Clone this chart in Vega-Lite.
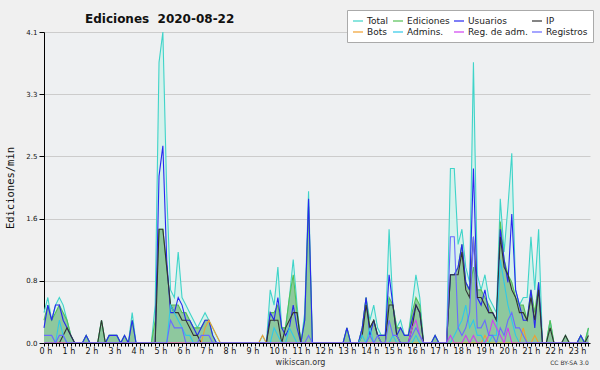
{
  "$schema": "https://vega.github.io/schema/vega-lite/v6.json",
  "width": 546,
  "height": 311,
  "autosize": "none",
  "padding": {"left": 44, "top": 32, "right": 10, "bottom": 27},
  "background": "#f0f0f0",
  "config": {"view": {"fill": "#eef0f2", "stroke": null}, "font": "DejaVu Sans"},
  "title": {"text": "Ediciones \u00a02020-08-22", "frame": "group", "anchor": "start", "dx": 41, "dy": 35, "offset": 10, "baseline": "alphabetic", "fontSize": 12, "font": "DejaVu Sans", "fontWeight": "bold", "color": "#111111"},
  "data": {"values": [
    {"t":0,"Total":0.4,"Ediciones":0.3,"Usuarios":0.2,"IP":0,"Bots":0,"Admins":0,"RegAdm":0,"Registros":0.1},
    {"t":1,"Total":0.6,"Ediciones":0.5,"Usuarios":0.5,"IP":0,"Bots":0,"Admins":0,"RegAdm":0,"Registros":0.1},
    {"t":2,"Total":0.3,"Ediciones":0.3,"Usuarios":0.3,"IP":0,"Bots":0,"Admins":0,"RegAdm":0,"Registros":0.1},
    {"t":3,"Total":0.5,"Ediciones":0.4,"Usuarios":0.5,"IP":0,"Bots":0,"Admins":0,"RegAdm":0,"Registros":0},
    {"t":4,"Total":0.6,"Ediciones":0.5,"Usuarios":0.5,"IP":0,"Bots":0,"Admins":0.3,"RegAdm":0,"Registros":0.1},
    {"t":5,"Total":0.5,"Ediciones":0.4,"Usuarios":0.3,"IP":0.1,"Bots":0,"Admins":0.1,"RegAdm":0,"Registros":0.1},
    {"t":6,"Total":0.3,"Ediciones":0.3,"Usuarios":0.2,"IP":0.2,"Bots":0,"Admins":0,"RegAdm":0,"Registros":0},
    {"t":7,"Total":0.1,"Ediciones":0.1,"Usuarios":0.1,"IP":0.1,"Bots":0,"Admins":0,"RegAdm":0,"Registros":0},
    {"t":8,"Total":0,"Ediciones":0,"Usuarios":0,"IP":0,"Bots":0,"Admins":0,"RegAdm":0,"Registros":0},
    {"t":9,"Total":0,"Ediciones":0,"Usuarios":0,"IP":0,"Bots":0,"Admins":0,"RegAdm":0,"Registros":0},
    {"t":10,"Total":0,"Ediciones":0,"Usuarios":0,"IP":0,"Bots":0,"Admins":0,"RegAdm":0,"Registros":0},
    {"t":11,"Total":0.1,"Ediciones":0.1,"Usuarios":0.1,"IP":0,"Bots":0,"Admins":0,"RegAdm":0,"Registros":0},
    {"t":12,"Total":0,"Ediciones":0,"Usuarios":0,"IP":0,"Bots":0,"Admins":0,"RegAdm":0,"Registros":0},
    {"t":13,"Total":0,"Ediciones":0,"Usuarios":0,"IP":0,"Bots":0,"Admins":0,"RegAdm":0,"Registros":0},
    {"t":14,"Total":0,"Ediciones":0,"Usuarios":0,"IP":0,"Bots":0,"Admins":0,"RegAdm":0,"Registros":0},
    {"t":15,"Total":0.3,"Ediciones":0.3,"Usuarios":0,"IP":0.3,"Bots":0,"Admins":0,"RegAdm":0,"Registros":0},
    {"t":16,"Total":0,"Ediciones":0,"Usuarios":0,"IP":0,"Bots":0,"Admins":0,"RegAdm":0,"Registros":0},
    {"t":17,"Total":0.1,"Ediciones":0.1,"Usuarios":0.1,"IP":0,"Bots":0,"Admins":0,"RegAdm":0,"Registros":0},
    {"t":18,"Total":0.1,"Ediciones":0.1,"Usuarios":0.1,"IP":0,"Bots":0,"Admins":0,"RegAdm":0,"Registros":0},
    {"t":19,"Total":0.1,"Ediciones":0.1,"Usuarios":0.1,"IP":0,"Bots":0,"Admins":0,"RegAdm":0,"Registros":0},
    {"t":20,"Total":0,"Ediciones":0,"Usuarios":0,"IP":0,"Bots":0,"Admins":0,"RegAdm":0,"Registros":0},
    {"t":21,"Total":0.1,"Ediciones":0.1,"Usuarios":0.1,"IP":0,"Bots":0,"Admins":0,"RegAdm":0,"Registros":0},
    {"t":22,"Total":0,"Ediciones":0,"Usuarios":0,"IP":0,"Bots":0,"Admins":0,"RegAdm":0,"Registros":0},
    {"t":23,"Total":0.4,"Ediciones":0.3,"Usuarios":0.3,"IP":0,"Bots":0,"Admins":0,"RegAdm":0,"Registros":0},
    {"t":24,"Total":0,"Ediciones":0,"Usuarios":0,"IP":0,"Bots":0,"Admins":0,"RegAdm":0,"Registros":0},
    {"t":25,"Total":0,"Ediciones":0,"Usuarios":0,"IP":0,"Bots":0,"Admins":0,"RegAdm":0,"Registros":0},
    {"t":26,"Total":0,"Ediciones":0,"Usuarios":0,"IP":0,"Bots":0,"Admins":0,"RegAdm":0,"Registros":0},
    {"t":27,"Total":0,"Ediciones":0,"Usuarios":0,"IP":0,"Bots":0,"Admins":0,"RegAdm":0,"Registros":0},
    {"t":28,"Total":0,"Ediciones":0,"Usuarios":0,"IP":0,"Bots":0,"Admins":0,"RegAdm":0,"Registros":0},
    {"t":29,"Total":0.5,"Ediciones":0.3,"Usuarios":0,"IP":0,"Bots":0,"Admins":0,"RegAdm":0,"Registros":0},
    {"t":30,"Total":3.7,"Ediciones":1.5,"Usuarios":2.2,"IP":1.5,"Bots":0,"Admins":0,"RegAdm":0,"Registros":0},
    {"t":31,"Total":4.1,"Ediciones":1.5,"Usuarios":2.6,"IP":1.5,"Bots":0,"Admins":0,"RegAdm":0,"Registros":0},
    {"t":32,"Total":2.0,"Ediciones":1.0,"Usuarios":1.1,"IP":1.0,"Bots":0,"Admins":0,"RegAdm":0,"Registros":0},
    {"t":33,"Total":0.7,"Ediciones":0.5,"Usuarios":0.4,"IP":0.5,"Bots":0,"Admins":0.5,"RegAdm":0,"Registros":0.3},
    {"t":34,"Total":0.6,"Ediciones":0.5,"Usuarios":0.4,"IP":0.4,"Bots":0,"Admins":0.4,"RegAdm":0,"Registros":0.2},
    {"t":35,"Total":1.2,"Ediciones":0.5,"Usuarios":0.6,"IP":0.4,"Bots":0,"Admins":0.3,"RegAdm":0,"Registros":0.2},
    {"t":36,"Total":0.6,"Ediciones":0.4,"Usuarios":0.5,"IP":0.3,"Bots":0,"Admins":0.2,"RegAdm":0,"Registros":0.2},
    {"t":37,"Total":0.5,"Ediciones":0.4,"Usuarios":0.3,"IP":0.3,"Bots":0,"Admins":0.1,"RegAdm":0,"Registros":0},
    {"t":38,"Total":0.4,"Ediciones":0.3,"Usuarios":0.3,"IP":0.2,"Bots":0,"Admins":0.1,"RegAdm":0,"Registros":0},
    {"t":39,"Total":0.3,"Ediciones":0.2,"Usuarios":0.2,"IP":0.1,"Bots":0,"Admins":0,"RegAdm":0,"Registros":0},
    {"t":40,"Total":0.2,"Ediciones":0.2,"Usuarios":0.1,"IP":0.1,"Bots":0,"Admins":0,"RegAdm":0,"Registros":0},
    {"t":41,"Total":0.3,"Ediciones":0.2,"Usuarios":0.2,"IP":0,"Bots":0,"Admins":0,"RegAdm":0,"Registros":0.1},
    {"t":42,"Total":0.4,"Ediciones":0.3,"Usuarios":0.3,"IP":0,"Bots":0.2,"Admins":0,"RegAdm":0,"Registros":0.1},
    {"t":43,"Total":0.3,"Ediciones":0.3,"Usuarios":0.3,"IP":0,"Bots":0.3,"Admins":0,"RegAdm":0,"Registros":0.1},
    {"t":44,"Total":0.2,"Ediciones":0.1,"Usuarios":0.1,"IP":0,"Bots":0.2,"Admins":0,"RegAdm":0,"Registros":0},
    {"t":45,"Total":0.1,"Ediciones":0,"Usuarios":0,"IP":0,"Bots":0.1,"Admins":0,"RegAdm":0,"Registros":0},
    {"t":46,"Total":0,"Ediciones":0,"Usuarios":0,"IP":0,"Bots":0,"Admins":0,"RegAdm":0,"Registros":0},
    {"t":47,"Total":0,"Ediciones":0,"Usuarios":0,"IP":0,"Bots":0,"Admins":0,"RegAdm":0,"Registros":0},
    {"t":48,"Total":0,"Ediciones":0,"Usuarios":0,"IP":0,"Bots":0,"Admins":0,"RegAdm":0,"Registros":0},
    {"t":49,"Total":0,"Ediciones":0,"Usuarios":0,"IP":0,"Bots":0,"Admins":0,"RegAdm":0,"Registros":0},
    {"t":50,"Total":0,"Ediciones":0,"Usuarios":0,"IP":0,"Bots":0,"Admins":0,"RegAdm":0,"Registros":0},
    {"t":51,"Total":0,"Ediciones":0,"Usuarios":0,"IP":0,"Bots":0,"Admins":0,"RegAdm":0,"Registros":0},
    {"t":52,"Total":0,"Ediciones":0,"Usuarios":0,"IP":0,"Bots":0,"Admins":0,"RegAdm":0,"Registros":0},
    {"t":53,"Total":0,"Ediciones":0,"Usuarios":0,"IP":0,"Bots":0,"Admins":0,"RegAdm":0,"Registros":0},
    {"t":54,"Total":0,"Ediciones":0,"Usuarios":0,"IP":0,"Bots":0,"Admins":0,"RegAdm":0,"Registros":0},
    {"t":55,"Total":0,"Ediciones":0,"Usuarios":0,"IP":0,"Bots":0,"Admins":0,"RegAdm":0,"Registros":0},
    {"t":56,"Total":0,"Ediciones":0,"Usuarios":0,"IP":0,"Bots":0,"Admins":0,"RegAdm":0,"Registros":0},
    {"t":57,"Total":0.1,"Ediciones":0,"Usuarios":0,"IP":0,"Bots":0.1,"Admins":0,"RegAdm":0,"Registros":0},
    {"t":58,"Total":0,"Ediciones":0,"Usuarios":0,"IP":0,"Bots":0,"Admins":0,"RegAdm":0,"Registros":0},
    {"t":59,"Total":0.7,"Ediciones":0.4,"Usuarios":0.4,"IP":0.3,"Bots":0,"Admins":0,"RegAdm":0,"Registros":0},
    {"t":60,"Total":0.5,"Ediciones":0.4,"Usuarios":0.3,"IP":0.3,"Bots":0,"Admins":0.2,"RegAdm":0,"Registros":0},
    {"t":61,"Total":1.0,"Ediciones":0.5,"Usuarios":0.6,"IP":0.3,"Bots":0,"Admins":0.1,"RegAdm":0,"Registros":0},
    {"t":62,"Total":0.2,"Ediciones":0.2,"Usuarios":0.2,"IP":0,"Bots":0,"Admins":0,"RegAdm":0,"Registros":0},
    {"t":63,"Total":0.2,"Ediciones":0.2,"Usuarios":0.1,"IP":0.2,"Bots":0,"Admins":0,"RegAdm":0,"Registros":0},
    {"t":64,"Total":0.6,"Ediciones":0.6,"Usuarios":0.2,"IP":0.3,"Bots":0,"Admins":0.2,"RegAdm":0,"Registros":0},
    {"t":65,"Total":1.1,"Ediciones":0.9,"Usuarios":0.5,"IP":0.4,"Bots":0,"Admins":0.1,"RegAdm":0,"Registros":0},
    {"t":66,"Total":0.5,"Ediciones":0.4,"Usuarios":0.2,"IP":0.4,"Bots":0,"Admins":0,"RegAdm":0,"Registros":0},
    {"t":67,"Total":0,"Ediciones":0,"Usuarios":0,"IP":0,"Bots":0,"Admins":0,"RegAdm":0,"Registros":0},
    {"t":68,"Total":0.4,"Ediciones":0.3,"Usuarios":0.3,"IP":0,"Bots":0,"Admins":0,"RegAdm":0,"Registros":0},
    {"t":69,"Total":2.0,"Ediciones":1.8,"Usuarios":1.9,"IP":0,"Bots":0,"Admins":0,"RegAdm":0,"Registros":0.1},
    {"t":70,"Total":0,"Ediciones":0,"Usuarios":0,"IP":0,"Bots":0,"Admins":0,"RegAdm":0,"Registros":0},
    {"t":71,"Total":0,"Ediciones":0,"Usuarios":0,"IP":0,"Bots":0,"Admins":0,"RegAdm":0,"Registros":0},
    {"t":72,"Total":0,"Ediciones":0,"Usuarios":0,"IP":0,"Bots":0,"Admins":0,"RegAdm":0,"Registros":0},
    {"t":73,"Total":0,"Ediciones":0,"Usuarios":0,"IP":0,"Bots":0,"Admins":0,"RegAdm":0,"Registros":0},
    {"t":74,"Total":0,"Ediciones":0,"Usuarios":0,"IP":0,"Bots":0,"Admins":0,"RegAdm":0,"Registros":0},
    {"t":75,"Total":0,"Ediciones":0,"Usuarios":0,"IP":0,"Bots":0,"Admins":0,"RegAdm":0,"Registros":0},
    {"t":76,"Total":0,"Ediciones":0,"Usuarios":0,"IP":0,"Bots":0,"Admins":0,"RegAdm":0,"Registros":0},
    {"t":77,"Total":0,"Ediciones":0,"Usuarios":0,"IP":0,"Bots":0,"Admins":0,"RegAdm":0,"Registros":0},
    {"t":78,"Total":0,"Ediciones":0,"Usuarios":0,"IP":0,"Bots":0,"Admins":0,"RegAdm":0,"Registros":0},
    {"t":79,"Total":0.2,"Ediciones":0.2,"Usuarios":0.2,"IP":0,"Bots":0,"Admins":0,"RegAdm":0,"Registros":0},
    {"t":80,"Total":0,"Ediciones":0,"Usuarios":0,"IP":0,"Bots":0,"Admins":0,"RegAdm":0,"Registros":0},
    {"t":81,"Total":0,"Ediciones":0,"Usuarios":0,"IP":0,"Bots":0,"Admins":0,"RegAdm":0,"Registros":0},
    {"t":82,"Total":0,"Ediciones":0,"Usuarios":0,"IP":0,"Bots":0,"Admins":0,"RegAdm":0,"Registros":0},
    {"t":83,"Total":0.2,"Ediciones":0.2,"Usuarios":0.2,"IP":0.1,"Bots":0,"Admins":0.1,"RegAdm":0,"Registros":0},
    {"t":84,"Total":0.6,"Ediciones":0.6,"Usuarios":0.6,"IP":0.5,"Bots":0,"Admins":0,"RegAdm":0,"Registros":0},
    {"t":85,"Total":0.3,"Ediciones":0.2,"Usuarios":0.1,"IP":0.2,"Bots":0,"Admins":0.2,"RegAdm":0,"Registros":0.1},
    {"t":86,"Total":0.5,"Ediciones":0.3,"Usuarios":0.3,"IP":0.3,"Bots":0,"Admins":0,"RegAdm":0,"Registros":0},
    {"t":87,"Total":0.2,"Ediciones":0.1,"Usuarios":0.1,"IP":0.1,"Bots":0,"Admins":0,"RegAdm":0,"Registros":0.1},
    {"t":88,"Total":0.1,"Ediciones":0.1,"Usuarios":0.1,"IP":0,"Bots":0,"Admins":0,"RegAdm":0,"Registros":0},
    {"t":89,"Total":0.1,"Ediciones":0.1,"Usuarios":0.1,"IP":0,"Bots":0,"Admins":0,"RegAdm":0,"Registros":0},
    {"t":90,"Total":1.5,"Ediciones":0.6,"Usuarios":0.9,"IP":0.5,"Bots":0,"Admins":0,"RegAdm":0,"Registros":0.3},
    {"t":91,"Total":0.5,"Ediciones":0.5,"Usuarios":0.5,"IP":0.5,"Bots":0,"Admins":0.1,"RegAdm":0,"Registros":0.1},
    {"t":92,"Total":0.2,"Ediciones":0.2,"Usuarios":0.1,"IP":0.1,"Bots":0,"Admins":0,"RegAdm":0,"Registros":0.1},
    {"t":93,"Total":0.3,"Ediciones":0.2,"Usuarios":0.2,"IP":0,"Bots":0,"Admins":0,"RegAdm":0,"Registros":0},
    {"t":94,"Total":0.1,"Ediciones":0.1,"Usuarios":0.1,"IP":0,"Bots":0,"Admins":0,"RegAdm":0,"Registros":0},
    {"t":95,"Total":0.1,"Ediciones":0.1,"Usuarios":0.1,"IP":0,"Bots":0,"Admins":0,"RegAdm":0,"Registros":0},
    {"t":96,"Total":0.5,"Ediciones":0.4,"Usuarios":0.3,"IP":0.2,"Bots":0,"Admins":0,"RegAdm":0.2,"Registros":0.1},
    {"t":97,"Total":0.9,"Ediciones":0.6,"Usuarios":0.5,"IP":0.5,"Bots":0,"Admins":0.1,"RegAdm":0.3,"Registros":0.2},
    {"t":98,"Total":0.6,"Ediciones":0.5,"Usuarios":0.4,"IP":0.4,"Bots":0,"Admins":0,"RegAdm":0.1,"Registros":0.1},
    {"t":99,"Total":0,"Ediciones":0,"Usuarios":0,"IP":0,"Bots":0,"Admins":0,"RegAdm":0,"Registros":0},
    {"t":100,"Total":0,"Ediciones":0,"Usuarios":0,"IP":0,"Bots":0,"Admins":0,"RegAdm":0,"Registros":0},
    {"t":101,"Total":0,"Ediciones":0,"Usuarios":0,"IP":0,"Bots":0,"Admins":0,"RegAdm":0,"Registros":0},
    {"t":102,"Total":0.1,"Ediciones":0.1,"Usuarios":0.1,"IP":0,"Bots":0,"Admins":0,"RegAdm":0,"Registros":0},
    {"t":103,"Total":0,"Ediciones":0,"Usuarios":0,"IP":0,"Bots":0,"Admins":0,"RegAdm":0,"Registros":0},
    {"t":104,"Total":0,"Ediciones":0,"Usuarios":0,"IP":0,"Bots":0,"Admins":0,"RegAdm":0,"Registros":0},
    {"t":105,"Total":0,"Ediciones":0,"Usuarios":0,"IP":0,"Bots":0,"Admins":0,"RegAdm":0,"Registros":0},
    {"t":106,"Total":2.3,"Ediciones":0.9,"Usuarios":0.9,"IP":0.9,"Bots":0,"Admins":0,"RegAdm":0.1,"Registros":1.4},
    {"t":107,"Total":2.3,"Ediciones":0.9,"Usuarios":0.9,"IP":0.9,"Bots":0,"Admins":0.1,"RegAdm":0,"Registros":1.4},
    {"t":108,"Total":1.3,"Ediciones":1.0,"Usuarios":1.0,"IP":0.9,"Bots":0,"Admins":0.2,"RegAdm":0,"Registros":0.2},
    {"t":109,"Total":1.5,"Ediciones":1.3,"Usuarios":1.3,"IP":1.2,"Bots":0,"Admins":0.3,"RegAdm":0,"Registros":0.1},
    {"t":110,"Total":1.0,"Ediciones":0.8,"Usuarios":0.8,"IP":0.7,"Bots":0,"Admins":0.5,"RegAdm":0.1,"Registros":0.2},
    {"t":111,"Total":0.8,"Ediciones":0.7,"Usuarios":0.7,"IP":0.6,"Bots":0,"Admins":0.2,"RegAdm":0,"Registros":0.4},
    {"t":112,"Total":3.7,"Ediciones":1.0,"Usuarios":2.3,"IP":1.4,"Bots":0,"Admins":0.3,"RegAdm":0.1,"Registros":1.4},
    {"t":113,"Total":0.9,"Ediciones":0.7,"Usuarios":0.6,"IP":0.6,"Bots":0,"Admins":0.1,"RegAdm":0,"Registros":0.2},
    {"t":114,"Total":0.7,"Ediciones":0.7,"Usuarios":0.5,"IP":0.6,"Bots":0,"Admins":0.1,"RegAdm":0,"Registros":0.2},
    {"t":115,"Total":0.9,"Ediciones":0.6,"Usuarios":0.7,"IP":0.5,"Bots":0.1,"Admins":0,"RegAdm":0,"Registros":0.3},
    {"t":116,"Total":0.6,"Ediciones":0.5,"Usuarios":0.4,"IP":0.4,"Bots":0,"Admins":0,"RegAdm":0.1,"Registros":0.1},
    {"t":117,"Total":0.5,"Ediciones":0.4,"Usuarios":0.4,"IP":0.4,"Bots":0,"Admins":0.1,"RegAdm":0.3,"Registros":0.1},
    {"t":118,"Total":0.4,"Ediciones":0.3,"Usuarios":0.3,"IP":0.3,"Bots":0,"Admins":0.1,"RegAdm":0.2,"Registros":0},
    {"t":119,"Total":1.9,"Ediciones":1.6,"Usuarios":1.5,"IP":1.4,"Bots":0,"Admins":1.1,"RegAdm":0.1,"Registros":0.2},
    {"t":120,"Total":1.2,"Ediciones":1.1,"Usuarios":1.1,"IP":1.0,"Bots":0,"Admins":0.8,"RegAdm":0,"Registros":0.1},
    {"t":121,"Total":1.8,"Ediciones":0.9,"Usuarios":0.8,"IP":0.9,"Bots":0,"Admins":0.5,"RegAdm":0.2,"Registros":0.3},
    {"t":122,"Total":2.5,"Ediciones":0.8,"Usuarios":1.7,"IP":0.7,"Bots":0,"Admins":0.3,"RegAdm":0,"Registros":0.4},
    {"t":123,"Total":0.7,"Ediciones":0.6,"Usuarios":0.7,"IP":0.6,"Bots":0,"Admins":0.1,"RegAdm":0,"Registros":0.2},
    {"t":124,"Total":0.5,"Ediciones":0.5,"Usuarios":0.5,"IP":0.4,"Bots":0,"Admins":0,"RegAdm":0,"Registros":0.2},
    {"t":125,"Total":0.6,"Ediciones":0.5,"Usuarios":0.3,"IP":0.4,"Bots":0.2,"Admins":0,"RegAdm":0,"Registros":0.1},
    {"t":126,"Total":0.6,"Ediciones":0.3,"Usuarios":0.3,"IP":0.3,"Bots":0,"Admins":0,"RegAdm":0,"Registros":0},
    {"t":127,"Total":1.4,"Ediciones":0.7,"Usuarios":0.7,"IP":0.6,"Bots":0,"Admins":0,"RegAdm":0,"Registros":0},
    {"t":128,"Total":0.7,"Ediciones":0.4,"Usuarios":0.2,"IP":0.3,"Bots":0.1,"Admins":0,"RegAdm":0,"Registros":0},
    {"t":129,"Total":1.5,"Ediciones":0.8,"Usuarios":0.8,"IP":0.7,"Bots":0,"Admins":0,"RegAdm":0,"Registros":0},
    {"t":130,"Total":0,"Ediciones":0,"Usuarios":0,"IP":0,"Bots":0,"Admins":0,"RegAdm":0,"Registros":0},
    {"t":131,"Total":0,"Ediciones":0,"Usuarios":0,"IP":0,"Bots":0,"Admins":0,"RegAdm":0,"Registros":0},
    {"t":132,"Total":0.3,"Ediciones":0.3,"Usuarios":0,"IP":0.2,"Bots":0,"Admins":0,"RegAdm":0,"Registros":0},
    {"t":133,"Total":0,"Ediciones":0,"Usuarios":0,"IP":0,"Bots":0,"Admins":0,"RegAdm":0,"Registros":0},
    {"t":134,"Total":0,"Ediciones":0,"Usuarios":0,"IP":0,"Bots":0,"Admins":0,"RegAdm":0,"Registros":0},
    {"t":135,"Total":0,"Ediciones":0,"Usuarios":0,"IP":0,"Bots":0,"Admins":0,"RegAdm":0,"Registros":0},
    {"t":136,"Total":0.1,"Ediciones":0.1,"Usuarios":0,"IP":0.1,"Bots":0,"Admins":0,"RegAdm":0,"Registros":0},
    {"t":137,"Total":0,"Ediciones":0,"Usuarios":0,"IP":0,"Bots":0,"Admins":0,"RegAdm":0,"Registros":0},
    {"t":138,"Total":0,"Ediciones":0,"Usuarios":0,"IP":0,"Bots":0,"Admins":0,"RegAdm":0,"Registros":0},
    {"t":139,"Total":0,"Ediciones":0,"Usuarios":0,"IP":0,"Bots":0,"Admins":0,"RegAdm":0,"Registros":0},
    {"t":140,"Total":0.1,"Ediciones":0.1,"Usuarios":0.1,"IP":0,"Bots":0,"Admins":0,"RegAdm":0,"Registros":0},
    {"t":141,"Total":0,"Ediciones":0,"Usuarios":0,"IP":0,"Bots":0,"Admins":0,"RegAdm":0,"Registros":0},
    {"t":142,"Total":0.2,"Ediciones":0.2,"Usuarios":0,"IP":0.1,"Bots":0,"Admins":0,"RegAdm":0,"Registros":0}
  ]},
  "transform": [{"fold": ["Total","Ediciones","Usuarios","IP","Bots","Admins","RegAdm","Registros"], "as": ["s","v"]}],
  "resolve": {"axis": {"x": "independent"}},
  "layer": [
    {
      "transform": [{"filter": "datum.s == 'Total'"}],
      "mark": {"type": "area", "color": "#d6f1ec", "opacity": 1},
      "encoding": {
        "x": {"field": "t", "type": "quantitative", "scale": {"domain": [0, 142.4], "nice": false, "zero": false},
          "axis": {"values": [0,1,2,3,4,5,6,7,8,9,10,11,12,13,14,15,16,17,18,19,20,21,22,23,24,25,26,27,28,29,30,31,32,33,34,35,36,37,38,39,40,41,42,43,44,45,46,47,48,49,50,51,52,53,54,55,56,57,58,59,60,61,62,63,64,65,66,67,68,69,70,71,72,73,74,75,76,77,78,79,80,81,82,83,84,85,86,87,88,89,90,91,92,93,94,95,96,97,98,99,100,101,102,103,104,105,106,107,108,109,110,111,112,113,114,115,116,117,118,119,120,121,122,123,124,125,126,127,128,129,130,131,132,133,134,135,136,137,138,139,140,141,142],
            "labelExpr": "datum.value % 6 == 0 ? (datum.value / 6) + ' h' : ''",
            "labelOverlap": false, "labelFlush": false, "labelAlign": "left", "labelOffset": -5, "labelFontSize": 8, "labelColor": "#111111", "labelPadding": 1,
            "tickSize": 3, "tickColor": "#000000", "domainColor": "#000000", "grid": false, "zindex": 1,
            "title": "wikiscan.org", "titleFontSize": 8, "titleFontWeight": "normal", "titleColor": "#333333",
            "titleX": 256, "titleY": 19, "titleBaseline": "middle", "titleAlign": "center"}},
        "y": {"field": "v", "type": "quantitative", "scale": {"domain": [0, 4.1], "nice": false},
          "axis": {"values": [0,0.205,0.41,0.615,0.82,1.025,1.23,1.435,1.64,1.845,2.05,2.255,2.46,2.665,2.87,3.075,3.28,3.485,3.69,3.895,4.1],
            "labelExpr": "abs(datum.value/0.82 - round(datum.value/0.82)) < 0.01 ? format(datum.value, '.1f') : ''",
            "labelFontSize": 7, "labelColor": "#111111", "labelPadding": 2, "labelOverlap": false,
            "tickColor": "#000000", "domainColor": "#000000", "zindex": 0,
            "tickSize": {"condition": {"test": "abs(datum.value/0.82 - round(datum.value/0.82)) < 0.01", "value": 5}, "value": 3},
            "grid": true, "gridColor": "#cccccc",
            "gridOpacity": {"condition": {"test": "abs(datum.value/0.82 - round(datum.value/0.82)) < 0.01 && datum.value > 0", "value": 1}, "value": 0},
            "title": "Ediciones/min", "titleFont": "DejaVu Sans Mono", "titleFontSize": 10.5, "titleFontWeight": "normal", "titleColor": "#111111", "titlePadding": 10}}
      }
    },
    {
      "transform": [{"filter": "datum.s == 'Ediciones'"}],
      "mark": {"type": "area", "color": "#8ec89e", "opacity": 1},
      "encoding": {
        "x": {"field": "t", "type": "quantitative", "axis": null},
        "y": {"field": "v", "type": "quantitative"}
      }
    },
    {
      "mark": {"type": "line", "strokeWidth": 1.1, "interpolate": "linear"},
      "encoding": {
        "x": {"field": "t", "type": "quantitative",
          "axis": {"orient": "bottom", "labels": false, "ticks": false, "domain": false, "grid": false,
            "title": "CC BY-SA 3.0", "titleFontSize": 6, "titleFontWeight": "normal", "titleColor": "#333333",
            "titleX": 525, "titleY": 19, "titleBaseline": "middle", "titleAlign": "center"}},
        "y": {"field": "v", "type": "quantitative"},
        "color": {"field": "s", "type": "nominal",
          "scale": {"domain": ["Total","Ediciones","Usuarios","IP","Bots","Admins","RegAdm","Registros"],
            "range": ["#3fd4c9","#55c055","#2828f0","#333333","#f0a030","#30c8e8","#d040f0","#6a6aff"]},
          "legend": {"orient": "none", "legendX": 303, "legendY": -22, "columns": 4, "direction": "horizontal", "title": null, "zindex": 2,
            "symbolType": "stroke", "symbolSize": 100, "symbolStrokeWidth": 1.2,
            "labelFontSize": 9, "labelFont": "DejaVu Sans", "labelColor": "#222222", "labelOffset": 3,
            "fillColor": "#ffffff", "strokeColor": "#aaaaaa", "padding": 5, "rowPadding": 0, "columnPadding": 1,
            "labelExpr": "datum.label == 'Admins' ? 'Admins.' : datum.label == 'RegAdm' ? 'Reg. de adm.' : datum.label"}}
      }
    }
  ]
}
